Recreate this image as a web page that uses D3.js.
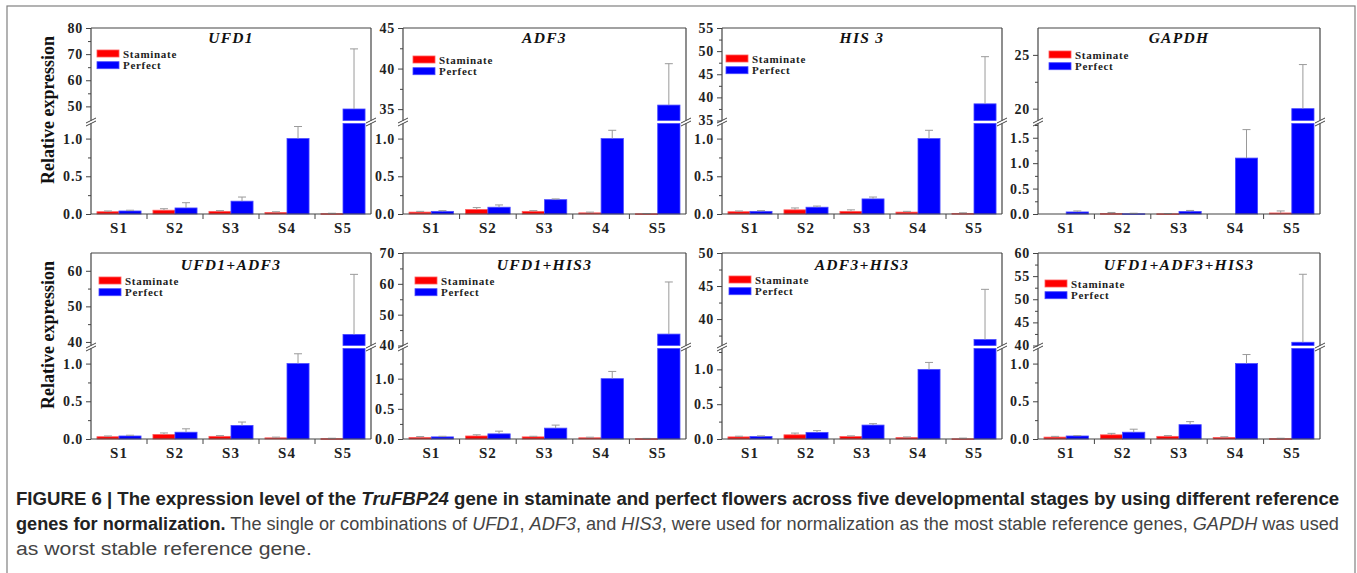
<!DOCTYPE html>
<html>
<head>
<meta charset="utf-8">
<script src="https://cdn.jsdelivr.net/npm/d3@7"></script>
<style>
  body { margin: 0; background: #fff; }
  svg { display: block; }
  .tick text { font-family: "Liberation Serif", "Times New Roman", serif; font-weight: bold; fill: #222; }
</style>
</head>
<body>
<div id="chart"></div>
<script>

var stages = ["S1", "S2", "S3", "S4", "S5"];
var series = ["Staminate", "Perfect"];
var genes = ["UFD1", "ADF3", "HIS 3", "GAPDH", "UFD1+ADF3", "UFD1+HIS3", "ADF3+HIS3", "UFD1+ADF3+HIS3"];

// mean relative expression, one row per panel (S1..S5)
var staminate = [
  [0.03, 0.05, 0.035, 0.02, 0.005],
  [0.025, 0.06, 0.035, 0.015, 0.003],
  [0.03, 0.055, 0.035, 0.025, 0.008],
  [0, 0.01, 0.004, 0, 0.02],
  [0.03, 0.06, 0.035, 0.015, 0.005],
  [0.025, 0.05, 0.035, 0.02, 0.005],
  [0.03, 0.06, 0.035, 0.02, 0.003],
  [0.025, 0.055, 0.035, 0.02, 0.005]
];
var staminateErr = [
  [0.01, 0.02, 0.01, 0.01, 0.005],
  [0.01, 0.025, 0.01, 0.01, 0.003],
  [0.01, 0.025, 0.02, 0.01, 0.008],
  [0, 0.02, 0.005, 0, 0.04],
  [0.01, 0.02, 0.01, 0.01, 0.005],
  [0.015, 0.02, 0.01, 0.01, 0.005],
  [0.01, 0.025, 0.01, 0.01, 0.01],
  [0.01, 0.02, 0.01, 0.01, 0.005]
];
var perfect = [
  [0.04, 0.08, 0.17, 1.0, 49.0],
  [0.035, 0.09, 0.19, 1.0, 35.5],
  [0.035, 0.09, 0.2, 1.0, 38.6],
  [0.04, 0.005, 0.05, 1.1, 20.0],
  [0.04, 0.09, 0.18, 1.0, 42.1],
  [0.035, 0.085, 0.18, 1.0, 43.7],
  [0.035, 0.095, 0.2, 1.0, 36.9],
  [0.04, 0.09, 0.19, 1.0, 40.7]
];
var perfectErr = [
  [0.01, 0.07, 0.055, 0.16, 23.0],
  [0.01, 0.03, 0.01, 0.11, 5.1],
  [0.01, 0.015, 0.025, 0.11, 10.2],
  [0.02, 0.01, 0.02, 0.56, 4.1],
  [0.01, 0.045, 0.045, 0.13, 16.9],
  [0.01, 0.045, 0.05, 0.12, 16.9],
  [0.01, 0.025, 0.02, 0.1, 7.6],
  [0.005, 0.04, 0.04, 0.12, 14.7]
];

// broken y axis: lower and upper segments
var lowerDomain = [[0, 1.2], [0, 1.2], [0, 1.2], [0, 1.78], [0, 1.2], [0, 1.5], [0, 1.3], [0, 1.2]];
var upperDomain = [[44.6, 80], [33.6, 45], [35, 55], [18.9, 27.5], [39, 65], [40, 70], [36, 50], [40, 60]];
var lowerTicks = [
  [0, 0.5, 1.0], [0, 0.5, 1.0], [0, 0.5, 1.0], [0, 0.5, 1.0, 1.5],
  [0, 0.5, 1.0], [0, 0.5, 1.0], [0, 0.5, 1.0], [0, 0.5, 1.0]
];
var upperTicks = [
  [50, 60, 70, 80], [35, 40, 45], [35, 40, 45, 50, 55], [20, 25],
  [40, 50, 60], [40, 50, 60, 70], [40, 45, 50], [40, 45, 50, 55, 60]
];

var yLabel = "Relative expression";

// layout
var colLeft = [91, 403, 722, 1038];
var colWidth = [280, 283, 280, 282];
var rowTop = [28, 253];
var plotH = 186;
var breakUpOff = 92.5, breakLowOff = 95.5;
var legendDx = [6, 10, 4, 11, 8, 12, 7, 7];
var legendDy = [22, 28, 27, 23, 24, 24, 23, 27];
var colors = { Staminate: "#ff0000", Perfect: "#0000ff" };
var strokes = { Staminate: "#ff5a5a", Perfect: "#4a4aff" };
var axisColor = "#444";
var serif = "'Liberation Serif', 'Times New Roman', serif";

var svg = d3.select("#chart").append("svg")
    .attr("width", 1357)
    .attr("height", 573);

// outer figure border
svg.append("rect")
    .attr("x", 7).attr("y", 6)
    .attr("width", 1348).attr("height", 600)
    .attr("fill", "none")
    .attr("stroke", "#808080")
    .attr("stroke-width", 1.2);

function minorTicks(ticks, domain) {
    var step = ticks[1] - ticks[0];
    var out = [];
    for (var v = ticks[0] - step / 2; v < domain[1]; v += step) {
        if (v > domain[0] + step * 0.12 && v < domain[1] - step * 0.02) out.push(v);
    }
    return out;
}

genes.forEach(function (gene, i) {
    var col = i % 4, row = Math.floor(i / 4);
    var left = colLeft[col], w = colWidth[col], top = rowTop[row];
    var right = left + w, bottom = top + plotH;
    var bUp = top + breakUpOff, bLow = top + breakLowOff;

    var g = svg.append("g").attr("class", "panel");

    var x = d3.scaleBand().domain(stages).range([left, right]).padding(0);
    var xs = d3.scaleBand().domain(series).range([0, x.bandwidth()])
        .paddingInner(0).paddingOuter(0.27);

    var lowMax = lowerDomain[i][1];
    var yLow = d3.scaleLinear().domain(lowerDomain[i]).range([bottom, bLow]);
    var yUp = d3.scaleLinear().domain(upperDomain[i]).range([bUp, top]);
    function yOf(v) { return v <= lowMax ? yLow(v) : yUp(v); }

    var rows = [];
    stages.forEach(function (s, j) {
        rows.push({ stage: s, series: "Staminate", value: staminate[i][j], err: staminateErr[i][j] });
        rows.push({ stage: s, series: "Perfect", value: perfect[i][j], err: perfectErr[i][j] });
    });

    // bars (split in two when crossing the break)
    var segs = [];
    rows.forEach(function (d) {
        if (d.value <= 0) return;
        if (d.value <= lowMax) {
            segs.push({ d: d, y0: yLow(d.value), y1: bottom });
        } else {
            segs.push({ d: d, y0: bLow, y1: bottom });
            segs.push({ d: d, y0: yUp(d.value), y1: bUp });
        }
    });

    g.selectAll(".bar")
        .data(segs).enter()
        .append("rect")
        .attr("class", "bar")
        .attr("x", function (s) { return x(s.d.stage) + xs(s.d.series); })
        .attr("width", xs.bandwidth())
        .attr("y", function (s) { return s.y0; })
        .attr("height", function (s) { return Math.max(0.8, s.y1 - s.y0); })
        .attr("fill", function (s) { return colors[s.d.series]; })
        .attr("stroke", function (s) { return strokes[s.d.series]; })
        .attr("stroke-width", 0.8);

    // error bars (upper only)
    var errs = rows.filter(function (d) { return d.err > 0; });
    var eg = g.selectAll(".err")
        .data(errs).enter()
        .append("g")
        .attr("class", "err")
        .attr("stroke", "#9a9a9a")
        .attr("stroke-width", 1);
    eg.append("line")
        .attr("x1", function (d) { return x(d.stage) + xs(d.series) + xs.bandwidth() / 2; })
        .attr("x2", function (d) { return x(d.stage) + xs(d.series) + xs.bandwidth() / 2; })
        .attr("y1", function (d) { return yOf(d.value); })
        .attr("y2", function (d) { return yOf(d.value + d.err); });
    eg.append("line")
        .attr("x1", function (d) { return x(d.stage) + xs(d.series) + xs.bandwidth() / 2 - 4; })
        .attr("x2", function (d) { return x(d.stage) + xs(d.series) + xs.bandwidth() / 2 + 4; })
        .attr("y1", function (d) { return yOf(d.value + d.err); })
        .attr("y2", function (d) { return yOf(d.value + d.err); });

    // y axes
    var axLow = g.append("g")
        .attr("transform", "translate(" + left + ",0)")
        .call(d3.axisLeft(yLow).tickValues(lowerTicks[i]).tickSize(5).tickPadding(3)
            .tickFormat(d3.format(".1f")));
    var axUp = g.append("g")
        .attr("transform", "translate(" + left + ",0)")
        .call(d3.axisLeft(yUp).tickValues(upperTicks[i]).tickSize(5).tickPadding(3)
            .tickFormat(d3.format("d")));
    var mLow = g.append("g")
        .attr("transform", "translate(" + left + ",0)")
        .call(d3.axisLeft(yLow).tickValues(minorTicks(lowerTicks[i], lowerDomain[i])).tickSize(3).tickFormat(""));
    var mUp = g.append("g")
        .attr("transform", "translate(" + left + ",0)")
        .call(d3.axisLeft(yUp).tickValues(minorTicks(upperTicks[i], upperDomain[i])).tickSize(3).tickFormat(""));
    [axLow, axUp, mLow, mUp].forEach(function (a) {
        a.select(".domain").remove();
        a.selectAll(".tick line").attr("stroke", axisColor);
        a.selectAll(".tick text")
            .style("font-size", "14px")
            .style("letter-spacing", "0.8px");
    });

    // x axis labels and ticks between stages
    var axX = g.append("g")
        .attr("transform", "translate(0," + bottom + ")")
        .call(d3.axisBottom(x).tickSize(0).tickPadding(8));
    axX.select(".domain").remove();
    axX.selectAll(".tick text")
        .style("font-size", "15px")
        .style("letter-spacing", "1px");
    g.selectAll(".xtick")
        .data(stages.slice(1)).enter()
        .append("line")
        .attr("class", "xtick")
        .attr("x1", function (s) { return x(s); })
        .attr("x2", function (s) { return x(s); })
        .attr("y1", bottom).attr("y2", bottom + 5)
        .attr("stroke", axisColor);

    // frame with break
    var frame = [
        [left, top, right, top],
        [left, bottom, right, bottom],
        [left, top, left, bUp],
        [left, bLow, left, bottom],
        [right, top, right, bUp],
        [right, bLow, right, bottom]
    ];
    g.selectAll(".frame")
        .data(frame).enter()
        .append("line")
        .attr("class", "frame")
        .attr("x1", function (f) { return f[0]; })
        .attr("y1", function (f) { return f[1]; })
        .attr("x2", function (f) { return f[2]; })
        .attr("y2", function (f) { return f[3]; })
        .attr("stroke", axisColor)
        .attr("stroke-width", 1.2);

    var marks = [];
    [left, right].forEach(function (xa) {
        [bUp, bLow].forEach(function (yb) { marks.push([xa, yb]); });
    });
    g.selectAll(".brk")
        .data(marks).enter()
        .append("line")
        .attr("class", "brk")
        .attr("x1", function (m) { return m[0] - 5; })
        .attr("y1", function (m) { return m[1] + 2.5; })
        .attr("x2", function (m) { return m[0] + 5; })
        .attr("y2", function (m) { return m[1] - 2.5; })
        .attr("stroke", axisColor)
        .attr("stroke-width", 1);

    // title
    g.append("text")
        .attr("x", (left + right) / 2)
        .attr("y", top + (row === 0 ? 15 : 17))
        .attr("text-anchor", "middle")
        .style("font-family", serif)
        .style("font-weight", "bold")
        .style("font-style", "italic")
        .style("font-size", "15.5px")
        .style("letter-spacing", "1.3px")
        .attr("fill", "#111")
        .text(gene);

    // legend
    var lg = g.append("g")
        .attr("transform", "translate(" + (left + legendDx[i]) + "," + (top + legendDy[i]) + ")");
    series.forEach(function (s, k) {
        lg.append("rect")
            .attr("x", 0).attr("y", k * 11.7)
            .attr("width", 22).attr("height", 7)
            .attr("fill", colors[s])
            .attr("stroke", strokes[s])
            .attr("stroke-width", 0.8);
        lg.append("text")
            .attr("x", 26).attr("y", k * 11.7 + 7.5)
            .style("font-family", serif)
            .style("font-weight", "bold")
            .style("font-size", "11px")
            .style("letter-spacing", "0.7px")
            .attr("fill", "#222")
            .text(s);
    });

    if (col === 0) {
        g.append("text")
            .attr("transform", "translate(54," + (top + 82) + ") rotate(-90)")
            .attr("text-anchor", "middle")
            .style("font-family", serif)
            .style("font-weight", "bold")
            .style("font-size", "18px")
            .attr("fill", "#111")
            .text(yLabel);
    }
});

// caption: each line squeezed horizontally to the reference width
var capFont = "'Liberation Sans', Arial, sans-serif";
var capLines = [
    { y: 505, len: 1324, parts: [
        { t: "FIGURE 6 | The expression level of the ", w: "bold" },
        { t: "TruFBP24", w: "bold", i: true },
        { t: " gene in staminate and perfect flowers across five developmental stages by using different reference", w: "bold" }
    ] },
    { y: 530, len: 1324, parts: [
        { t: "genes for normalization.", w: "bold" },
        { t: " The single or combinations of " },
        { t: "UFD1", i: true },
        { t: ", " },
        { t: "ADF3", i: true },
        { t: ", and " },
        { t: "HIS3", i: true },
        { t: ", were used for normalization as the most stable reference genes, " },
        { t: "GAPDH", i: true },
        { t: " was used" }
    ] },
    { y: 555, len: 296, parts: [
        { t: "as worst stable reference gene." }
    ] }
];
capLines.forEach(function (line) {
    var t = svg.append("text")
        .attr("x", 0)
        .attr("y", 0)
        .style("font-family", capFont)
        .style("font-size", "19px");
    line.parts.forEach(function (p) {
        t.append("tspan")
            .style("font-weight", p.w || "normal")
            .style("font-style", p.i ? "italic" : "normal")
            .attr("fill", p.w ? "#222" : "#444")
            .text(p.t);
    });
    var natural = t.node().getComputedTextLength();
    var sx = line.len / natural;
    t.attr("transform", "translate(16," + line.y + ") scale(" + sx + ",1)");
});

</script>
</body>
</html>
